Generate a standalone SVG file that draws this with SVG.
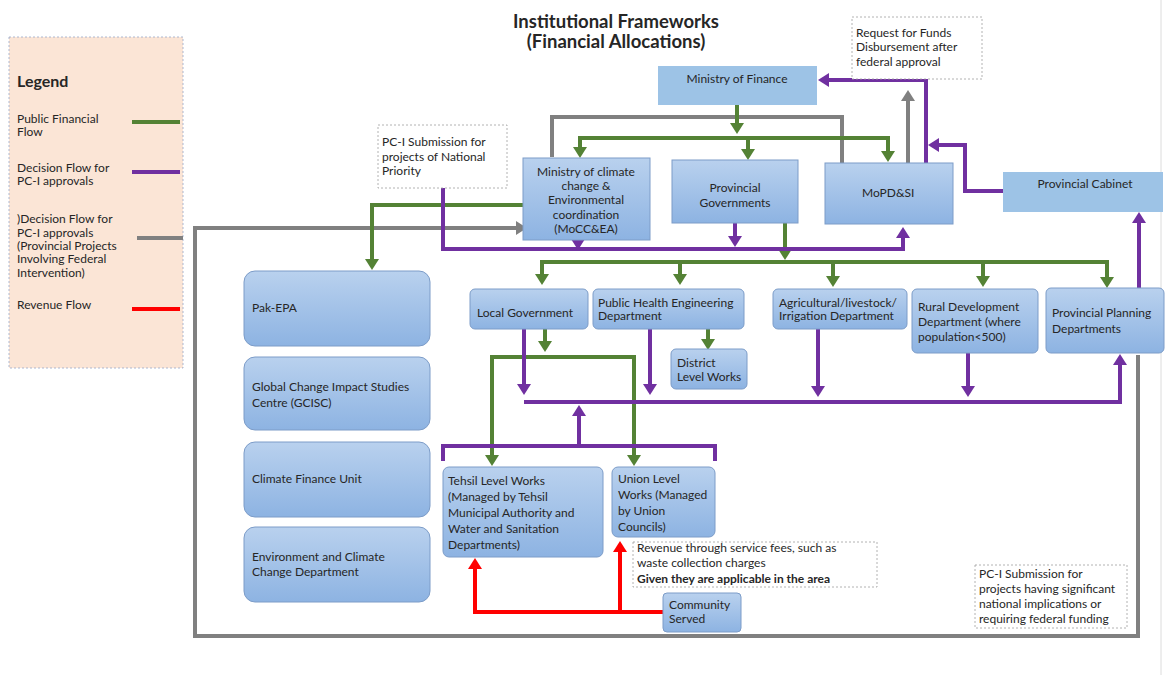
<svg xmlns="http://www.w3.org/2000/svg" width="1165" height="675" viewBox="0 0 1165 675">
<defs>
<linearGradient id="gb" x1="0" y1="0" x2="0" y2="1">
<stop offset="0" stop-color="#B9D1EE"/>
<stop offset="1" stop-color="#8DB3E2"/>
</linearGradient>
<marker id="aG" markerUnits="userSpaceOnUse" markerWidth="12" markerHeight="14" viewBox="0 0 12 14" refX="0" refY="7" orient="auto-start-reverse"><path d="M0,0 L11,7 L0,14 z" fill="#548235"/></marker>
<marker id="aP" markerUnits="userSpaceOnUse" markerWidth="12" markerHeight="14" viewBox="0 0 12 14" refX="0" refY="7" orient="auto-start-reverse"><path d="M0,0 L11,7 L0,14 z" fill="#7030A0"/></marker>
<marker id="aY" markerUnits="userSpaceOnUse" markerWidth="12" markerHeight="14" viewBox="0 0 12 14" refX="0" refY="7" orient="auto-start-reverse"><path d="M0,0 L11,7 L0,14 z" fill="#808080"/></marker>
<marker id="aR" markerUnits="userSpaceOnUse" markerWidth="12" markerHeight="14" viewBox="0 0 12 14" refX="0" refY="7" orient="auto-start-reverse"><path d="M0,0 L11,7 L0,14 z" fill="#FF0000"/></marker>
</defs>
<style>
text{font-family:Lato,"Liberation Sans",sans-serif;font-size:12px;fill:#262626}
.c{text-anchor:middle}
.b{font-weight:bold}
.box{fill:url(#gb);stroke:#7C9CC8;stroke-width:1}
.flat{fill:#9DC3E6}
.note{fill:#fff;stroke:#a0a0a0;stroke-width:0.8;stroke-dasharray:2,2}
.g,.p,.y,.r{fill:none;stroke-width:4;stroke-linejoin:miter}
.g{stroke:#548235}
.p{stroke:#7030A0}
.y{stroke:#808080}
.r{stroke:#FF0000}
.eg{marker-end:url(#aG)}
.ep{marker-end:url(#aP)}
.ey{marker-end:url(#aY)}
.er{marker-end:url(#aR)}
.sg{marker-start:url(#aG)}
</style>
<rect width="1165" height="675" fill="#fff"/>
<line x1="1161" y1="0" x2="1161" y2="675" stroke="#dcdcdc" stroke-width="1"/>

<g id="title">
<text x="616" y="28" class="c b" style="font-size:18.5px">Institutional Frameworks</text>
<text x="616" y="48" class="c b" style="font-size:18.5px">(Financial Allocations)</text>
</g>

<g id="legend">
<rect x="9" y="37" width="174" height="331" fill="#FBE5D6" stroke="#9AA8C8" stroke-width="0.8" stroke-dasharray="2,2"/>
<text x="17" y="87" class="b" style="font-size:16px">Legend</text>
<text x="17" y="123">Public Financial</text>
<text x="17" y="136">Flow</text>
<line x1="132" y1="122" x2="180" y2="122" class="g"/>
<text x="17" y="172">Decision Flow for</text>
<text x="17" y="185">PC-I approvals</text>
<line x1="132" y1="172" x2="180" y2="172" class="p"/>
<text x="17" y="223">)Decision Flow for</text>
<text x="17" y="237">PC-I approvals</text>
<text x="17" y="250">(Provincial Projects</text>
<text x="17" y="263">Involving Federal</text>
<text x="17" y="277">Intervention)</text>
<line x1="137" y1="238" x2="183" y2="238" class="y"/>
<text x="17" y="309">Revenue Flow</text>
<line x1="132" y1="309" x2="180" y2="309" class="r"/>
</g>

<g id="connectors">
<!-- gray -->
<path class="y ey" d="M1138,355 V636 H195 V228 H516"/>
<path class="y ey" d="M552,157 V117 H842 V195 H847"/>
<path class="y ey" d="M908,163 V101"/>
<!-- green -->
<path class="g eg" d="M737,105 V123"/>
<path class="g eg sg" d="M580,147 V138 H888 V151"/>
<path class="g eg" d="M748,138 V149"/>
<path class="g eg" d="M523,205 H372 V259"/>
<path class="g eg" d="M785,223 V249"/>
<path class="g eg sg" d="M542,274 V262 H1107 V277"/>
<path class="g eg" d="M680,262 V274"/>
<path class="g eg" d="M833,262 V276"/>
<path class="g eg" d="M983,262 V276"/>
<path class="g eg" d="M545,329 V341"/>
<path class="g eg sg" d="M492,455 V357 H634 V455"/>
<path class="g eg" d="M708,329 V339"/>
<!-- purple -->
<path class="p ep" d="M926,163 V80 H829"/>
<path class="p ep" d="M1003,191 H965 V145 H939"/>
<path class="p ep" d="M1139,288 V223"/>
<path class="p ep" d="M443,188 V249 H903 V238"/>
<path class="p ep" d="M578,238 V239"/>
<path class="p ep" d="M735,223 V236"/>
<path class="p ep" d="M524,329 V384"/>
<path class="p ep" d="M650,329 V384"/>
<path class="p ep" d="M524,402 H1120 V365"/>
<path class="p ep" d="M818,329 V386"/>
<path class="p ep" d="M968,353 V386"/>
<path class="p" d="M443,461 V446 H715 V461"/>
<path class="p ep" d="M579,446 V416"/>
<!-- red -->
<path class="r er" d="M663,612 H475 V569"/>
<path class="r er" d="M620,612 V552"/>
</g>

<g id="ministry-of-finance">
<rect x="658" y="66" width="159" height="39" class="flat"/>
<text x="737" y="83" class="c">Ministry of Finance</text>
</g>

<g id="note-request">
<rect x="852" y="17" width="130" height="62" class="note"/>
<text x="856" y="37">Request for Funds</text>
<text x="856" y="51">Disbursement after</text>
<text x="856" y="66">federal approval</text>
</g>

<g id="note-pc1-national">
<rect x="378" y="125" width="129" height="63" class="note"/>
<text x="382" y="146">PC-I Submission for</text>
<text x="382" y="161">projects of National</text>
<text x="382" y="175">Priority</text>
</g>

<g id="mocc">
<rect x="523" y="158" width="127" height="82" class="box"/>
<text x="586" y="176" class="c">Ministry of climate</text>
<text x="586" y="190" class="c">change &amp;</text>
<text x="586" y="204" class="c">Environmental</text>
<text x="586" y="219" class="c">coordination</text>
<text x="586" y="233" class="c">(MoCC&amp;EA)</text>
</g>

<g id="provincial-governments">
<rect x="672" y="160" width="126" height="63" class="box"/>
<text x="735" y="192" class="c">Provincial</text>
<text x="735" y="207" class="c">Governments</text>
</g>

<g id="mopdsi">
<rect x="825" y="163" width="128" height="61" class="box"/>
<text x="862" y="197">MoPD&amp;SI</text>
</g>

<g id="provincial-cabinet">
<rect x="1003" y="172" width="160" height="40" class="flat"/>
<text x="1085" y="188" class="c">Provincial Cabinet</text>
</g>

<g id="pak-epa">
<rect x="244" y="271" width="186" height="75" rx="11" class="box"/>
<text x="252" y="312">Pak-EPA</text>
</g>

<g id="gcisc">
<rect x="244" y="357" width="186" height="73" rx="11" class="box"/>
<text x="252" y="391">Global Change Impact Studies</text>
<text x="252" y="407">Centre (GCISC)</text>
</g>

<g id="climate-finance-unit">
<rect x="244" y="442" width="186" height="75" rx="11" class="box"/>
<text x="252" y="483">Climate Finance Unit</text>
</g>

<g id="env-climate-dept">
<rect x="244" y="527" width="186" height="75" rx="11" class="box"/>
<text x="252" y="561">Environment and Climate</text>
<text x="252" y="576">Change Department</text>
</g>

<g id="local-government">
<rect x="470" y="289" width="118" height="40" rx="5" class="box"/>
<text x="477" y="317">Local Government</text>
</g>

<g id="phe-department">
<rect x="593" y="289" width="151" height="40" rx="5" class="box"/>
<text x="598" y="307">Public Health Engineering</text>
<text x="598" y="320">Department</text>
</g>

<g id="district-level-works">
<rect x="671" y="349" width="76" height="40" rx="5" class="box"/>
<text x="677" y="367">District</text>
<text x="677" y="381">Level Works</text>
</g>

<g id="agri-department">
<rect x="773" y="289" width="134" height="40" rx="5" class="box"/>
<text x="779" y="307">Agricultural/livestock/</text>
<text x="779" y="320">Irrigation Department</text>
</g>

<g id="rural-development">
<rect x="912" y="289" width="126" height="64" rx="5" class="box"/>
<text x="918" y="311">Rural Development</text>
<text x="918" y="326">Department (where</text>
<text x="918" y="341">population&lt;500)</text>
</g>

<g id="provincial-planning">
<rect x="1046" y="288" width="118" height="65" rx="5" class="box"/>
<text x="1052" y="317">Provincial Planning</text>
<text x="1052" y="333">Departments</text>
</g>

<g id="tehsil-works">
<rect x="443" y="467" width="160" height="90" rx="6" class="box"/>
<text x="448" y="485">Tehsil Level Works</text>
<text x="448" y="501">(Managed by Tehsil</text>
<text x="448" y="517">Municipal Authority and</text>
<text x="448" y="533">Water and Sanitation</text>
<text x="448" y="549">Departments)</text>
</g>

<g id="union-works">
<rect x="612" y="467" width="103" height="70" rx="6" class="box"/>
<text x="618" y="483">Union Level</text>
<text x="618" y="499">Works (Managed</text>
<text x="618" y="515">by Union</text>
<text x="618" y="531">Councils)</text>
</g>

<g id="note-revenue">
<rect x="633" y="542" width="244" height="45" class="note"/>
<text x="637" y="552">Revenue through service fees, such as</text>
<text x="637" y="567">waste collection charges</text>
<text x="637" y="583" class="b">Given they are applicable in the area</text>
</g>

<g id="community-served">
<rect x="663" y="593" width="78" height="39" rx="4" class="box"/>
<text x="669" y="609">Community</text>
<text x="669" y="623">Served</text>
</g>

<g id="note-pc1-federal">
<rect x="975" y="565" width="152" height="63" class="note"/>
<text x="979" y="578">PC-I Submission for</text>
<text x="979" y="593">projects having significant</text>
<text x="979" y="608">national implications or</text>
<text x="979" y="623">requiring federal funding</text>
</g>
</svg>
